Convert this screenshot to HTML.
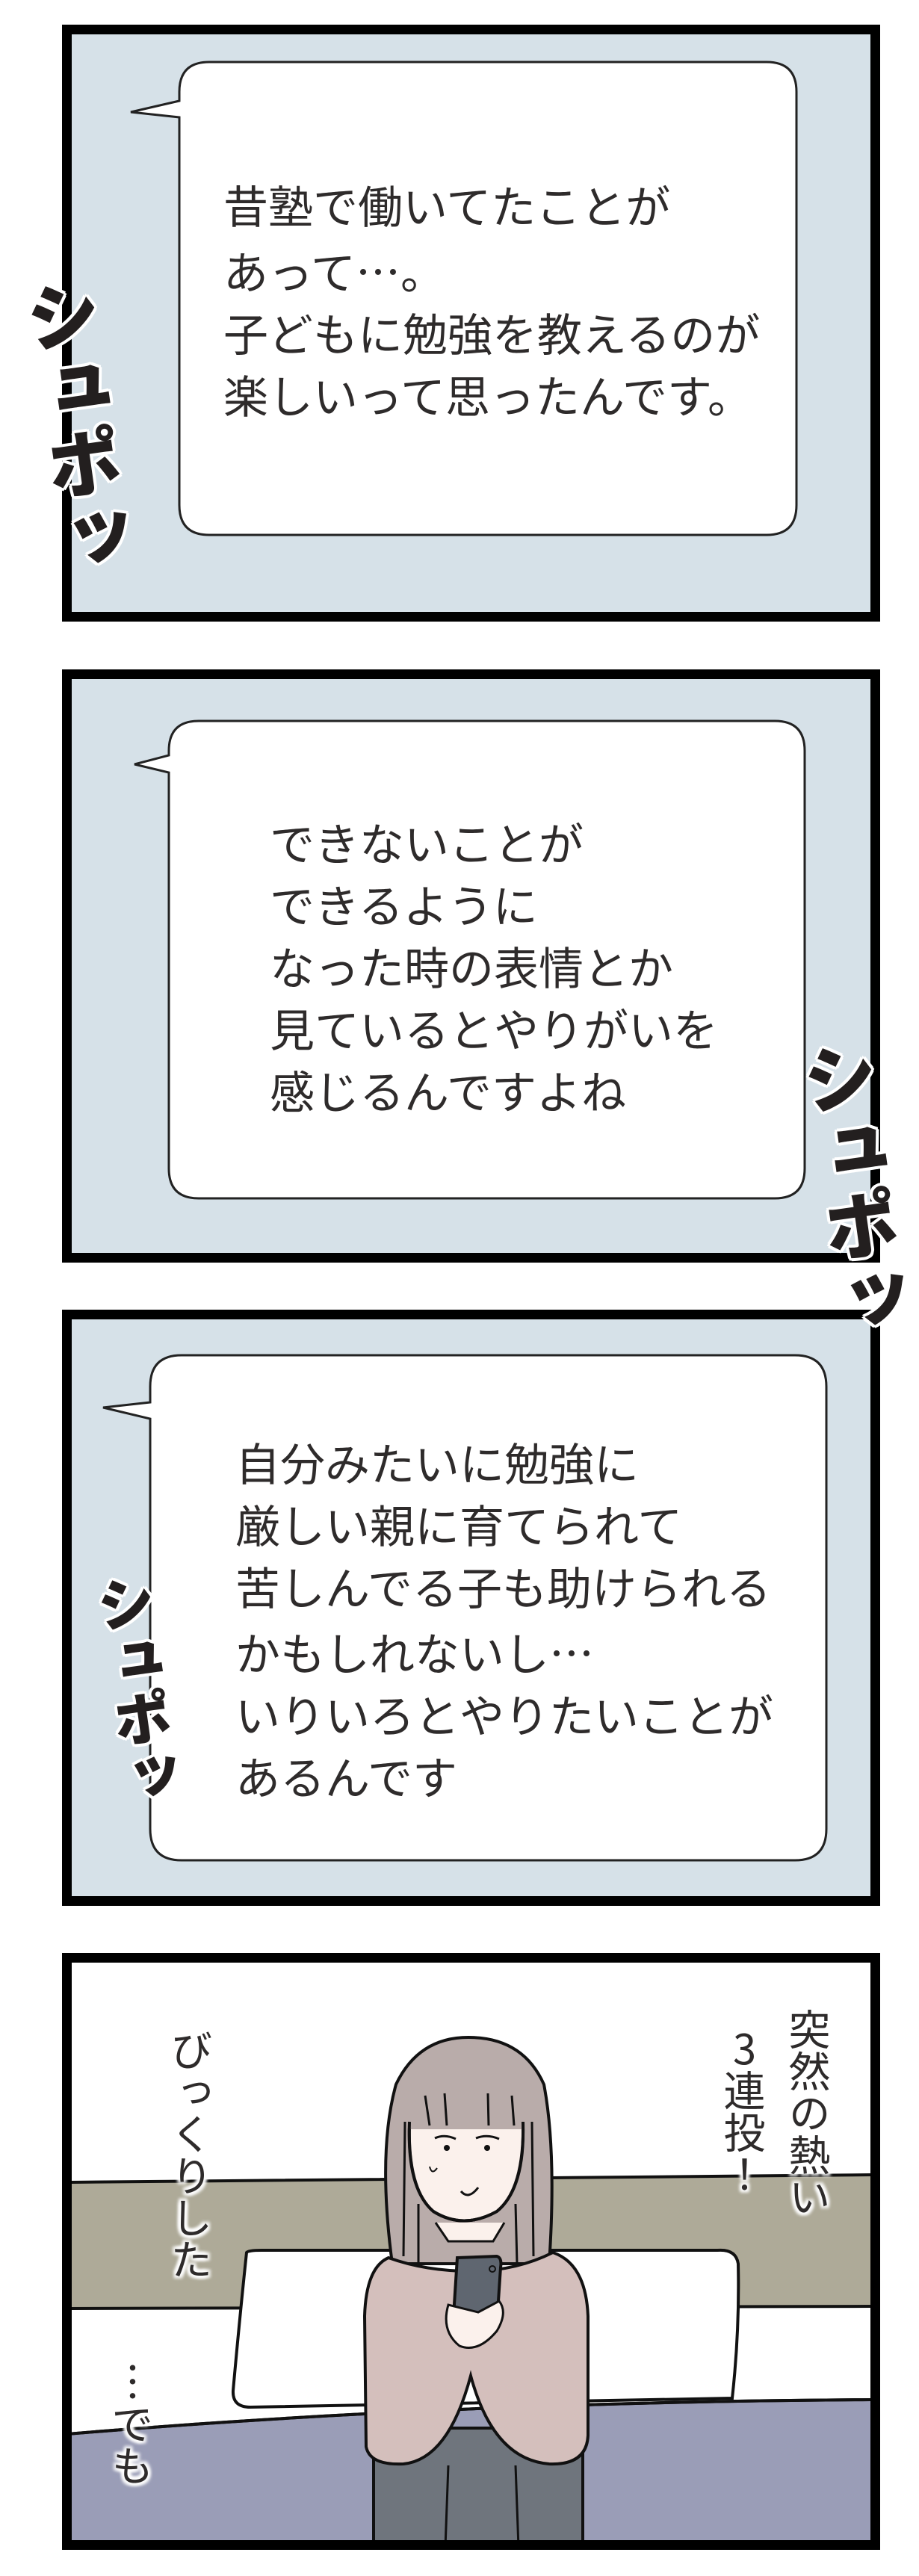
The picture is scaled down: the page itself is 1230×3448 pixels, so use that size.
<!DOCTYPE html>
<html><head><meta charset="utf-8">
<style>
html,body{margin:0;padding:0;background:#fff}
body{width:1230px;height:3448px;position:relative;overflow:hidden;font-family:"Liberation Sans","Noto Sans CJK JP",sans-serif}
.t{position:absolute;font-size:60px;line-height:83px;color:#2e2b2b;white-space:nowrap;letter-spacing:0px}
.j{font-family:"Noto Sans CJK JP",sans-serif}
.v{position:absolute;writing-mode:vertical-rl;text-orientation:upright;font-family:"Noto Sans CJK JP",sans-serif;font-size:56px;line-height:60px;color:#2e2b2b;white-space:nowrap;
 text-shadow:0 0 6px #fff,0 0 6px #fff,0 0 8px #fff,3px 3px 4px #fff,-3px -3px 4px #fff,3px -3px 4px #fff,-3px 3px 4px #fff}
.sfx{position:absolute;writing-mode:vertical-rl;font-weight:900;color:#231f1f;white-space:nowrap;
 font-family:"Noto Sans CJK JP","WenQuanYi Zen Hei",sans-serif;
 text-shadow:4px 0 0 #fff,-4px 0 0 #fff,0 4px 0 #fff,0 -4px 0 #fff,3px 3px 0 #fff,-3px -3px 0 #fff,3px -3px 0 #fff,-3px 3px 0 #fff}
</style></head><body>
<svg width="1230" height="3448" style="position:absolute;left:0;top:0">
<defs><clipPath id="p4"><rect x="96" y="2627" width="1069" height="773"/></clipPath></defs>
<rect x="89.5" y="39.5" width="1082" height="786" fill="#d6e1e8" stroke="#000" stroke-width="13"/>
<rect x="89.5" y="902.5" width="1082" height="781" fill="#d6e1e8" stroke="#000" stroke-width="13"/>
<rect x="89.5" y="1759.5" width="1082" height="785" fill="#d6e1e8" stroke="#000" stroke-width="13"/>
<path d="M280,83 H1026 Q1066,83 1066,123 V676 Q1066,716 1026,716 H280 Q240,716 240,676 V157 L175,150 L240,135 V123 Q240,83 280,83 Z" fill="#fff" stroke="#222" stroke-width="3"/>
<path d="M266,965 H1037 Q1077,965 1077,1005 V1564 Q1077,1604 1037,1604 H266 Q226,1604 226,1564 V1034 L180,1023 L226,1011 V1005 Q226,965 266,965 Z" fill="#fff" stroke="#222" stroke-width="3"/>
<path d="M243,1814 H1064 Q1106,1814 1106,1856 V2448 Q1106,2490 1064,2490 H243 Q201,2490 201,2448 V1899 L138,1884 L201,1877 V1856 Q201,1814 243,1814 Z" fill="#fff" stroke="#222" stroke-width="3"/>
<g clip-path="url(#p4)">
<rect x="96" y="2627" width="1069" height="773" fill="#fff"/>
<path d="M90,2921 L1170,2911 L1170,3087 L90,3090 Z" fill="#aeaa98" stroke="#111" stroke-width="4"/>
<path d="M90,3258 Q600,3215 1170,3212 L1170,3410 L90,3410 Z" fill="#9a9db7" stroke="#111" stroke-width="4"/>
<path d="M330,3015 Q320,3110 312,3200 Q311,3222 335,3222 L980,3210 Q990,3120 988,3030 Q985,3010 960,3012 L350,3012 Q332,3012 330,3015 Z" fill="#fff" stroke="#111" stroke-width="4"/>
<path d="M90,3258 Q600,3215 1170,3212" fill="none" stroke="#111" stroke-width="4"/>
<path d="M525,3030 Q505,2880 530,2790 Q560,2727 627,2727 Q700,2727 728,2790 Q745,2880 735,3030 Z" fill="#b9acaa" stroke="#111" stroke-width="4"/>
<path d="M500,3250 L500,3410 L780,3410 L780,3250 Z" fill="#6f757d" stroke="#111" stroke-width="4"/>
<line x1="600" y1="3300" x2="596" y2="3410" stroke="#111" stroke-width="3"/>
<line x1="690" y1="3300" x2="694" y2="3410" stroke="#111" stroke-width="3"/>
<path d="M520,3022 Q490,3035 488,3100 L490,3275 Q495,3300 540,3298 Q600,3292 630,3180 Q660,3292 735,3298 Q785,3300 787,3260 L787,3100 Q784,3030 740,3015 Q690,3040 630,3040 Q570,3040 520,3022 Z" fill="#d4bfbc" stroke="#111" stroke-width="4"/>
<path d="M583,2975 L600,3000 L660,3000 L675,2975" fill="#fbf1ec" stroke="#111" stroke-width="3"/>
<path d="M548,2845 Q545,2930 580,2960 Q620,2985 665,2960 Q702,2930 700,2845 Z" fill="#fbf1ec" stroke="#111" stroke-width="4"/>
<path d="M545,2848 Q555,2780 625,2775 Q695,2778 705,2848 L702,2850 L548,2850 Z" fill="#b9acaa"/>
<path d="M569,2805 L575,2845 M595,2802 L598,2845 M653,2802 L654,2845 M685,2805 L688,2845" stroke="#111" stroke-width="3" fill="none"/>
<path d="M548,2840 Q545,2930 580,2960 Q620,2985 665,2960 Q702,2930 700,2840" fill="none" stroke="#111" stroke-width="4"/>
<path d="M542,2840 L540,3020 M712,2840 L714,3020 M560,2950 L560,3030 M690,2950 L692,3030" stroke="#111" stroke-width="3" fill="none"/>
<path d="M582,2862 Q595,2856 610,2863 M637,2862 Q652,2856 668,2863" stroke="#111" stroke-width="3" fill="none"/>
<circle cx="598" cy="2875" r="4" fill="#111"/><circle cx="652" cy="2875" r="4" fill="#111"/>
<path d="M617,2933 Q627,2945 640,2928" stroke="#111" stroke-width="3" fill="none"/>
<path d="M575,2900 Q578,2912 585,2902" stroke="#111" stroke-width="2" fill="none"/>
<path d="M612,3022 L665,3020 Q672,3022 670,3035 L665,3110 L615,3115 Q607,3112 607,3100 Z" fill="#5f6670" stroke="#111" stroke-width="4"/>
<circle cx="659" cy="3037" r="4" fill="none" stroke="#111" stroke-width="2"/>
<path d="M600,3085 Q590,3120 615,3140 Q640,3150 665,3120 Q680,3095 668,3080 L640,3095 Z" fill="#fbf1ec" stroke="#111" stroke-width="3"/>
</g>
<rect x="89.5" y="2620.5" width="1082" height="786" fill="none" stroke="#000" stroke-width="13"/>
</svg>

<div class="t" style="left:299px;top:237px">昔塾で働いてたことが<br>あって<span class="j">…</span>。<br>子どもに勉強を教えるのが<br>楽しいって思ったんです。</div>
<div class="t" style="left:361px;top:1090px">できないことが<br>できるように<br>なった時の表情とか<br>見ているとやりがいを<br>感じるんですよね</div>
<div class="t" style="left:315px;top:1920px">自分みたいに勉強に<br>厳しい親に育てられて<br>苦しんでる子も助けられる<br>かもしれないし<span class="j">…</span><br>いりいろとやりたいことが<br>あるんです</div>

<div class="sfx" style="left:50px;top:370px;font-size:100px;line-height:110px;transform:rotate(-8deg)">シュポッ</div>
<div class="sfx" style="left:1090px;top:1390px;font-size:100px;line-height:110px;transform:rotate(-8deg)">シュポッ</div>
<div class="sfx" style="left:140px;top:2105px;font-size:78px;line-height:90px;transform:rotate(-8deg)">シュポッ</div>

<div class="v" style="left:1053px;top:2688px">突然の熱い</div>
<div class="v" style="left:966px;top:2714px">3連投！</div>
<div class="v" style="left:226px;top:2716px">びっくりした</div>
<div class="v" style="left:147px;top:3160px">…でも</div>
</body></html>
